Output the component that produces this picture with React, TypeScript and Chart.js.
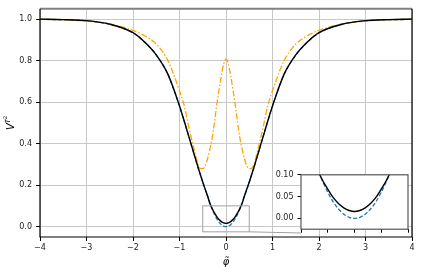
import React, { useEffect, useRef } from "react";
import { Chart, registerables } from "chart.js";
Chart.register(...registerables);

const xs = [-4, -3.5, -3, -2.5, -2, -1.75, -1.5, -1.25, -1, -0.9, -0.8, -0.7, -0.6, -0.55, -0.5, -0.45, -0.4, -0.35, -0.3, -0.25, -0.2, -0.15, -0.1, -0.05, 0,
  0.05, 0.1, 0.15, 0.2, 0.25, 0.3, 0.35, 0.4, 0.45, 0.5, 0.55, 0.6, 0.7, 0.8, 0.9, 1, 1.25, 1.5, 1.75, 2, 2.5, 3, 3.5, 4];

const blackY = [1.0, 0.998, 0.993, 0.976, 0.935, 0.89, 0.828, 0.735, 0.582, 0.51, 0.435, 0.36, 0.285, 0.25, 0.215, 0.182, 0.15, 0.114, 0.088, 0.067, 0.048, 0.034, 0.024, 0.018, 0.0155,
  0.018, 0.024, 0.034, 0.048, 0.067, 0.088, 0.114, 0.15, 0.182, 0.215, 0.25, 0.285, 0.36, 0.435, 0.51, 0.582, 0.735, 0.828, 0.89, 0.935, 0.976, 0.993, 0.998, 1.0];

const orangeY = [1.0, 0.997, 0.991, 0.977, 0.946, 0.92, 0.88, 0.8, 0.655, 0.585, 0.48, 0.385, 0.3, 0.281, 0.28, 0.292, 0.325, 0.37, 0.425, 0.5, 0.585, 0.66, 0.728, 0.785, 0.808,
  0.785, 0.728, 0.66, 0.585, 0.5, 0.425, 0.37, 0.325, 0.292, 0.28, 0.281, 0.3, 0.385, 0.48, 0.585, 0.655, 0.8, 0.88, 0.92, 0.946, 0.977, 0.991, 0.997, 1.0];

const blueY = [0.999, 0.997, 0.992, 0.975, 0.934, 0.889, 0.827, 0.734, 0.581, 0.509, 0.434, 0.359, 0.284, 0.249, 0.214, 0.181, 0.15, 0.118, 0.086, 0.06, 0.038, 0.0215, 0.0096, 0.0024, 0.0,
  0.0024, 0.0096, 0.0215, 0.038, 0.06, 0.086, 0.118, 0.15, 0.181, 0.214, 0.249, 0.284, 0.359, 0.434, 0.509, 0.581, 0.734, 0.827, 0.889, 0.934, 0.975, 0.992, 0.997, 0.999];

const xTicks = [-4, -3, -2, -1, 0, 1, 2, 3, 4];
const yTicks = [0, 0.2, 0.4, 0.6, 0.8, 1.0];
const insetXTicks = [-0.5, -0.25, 0, 0.25, 0.5];
const insetYTicks = [0, 0.05, 0.1];
const zoomX = [-0.5, 0.5];
const zoomY = [-0.025, 0.1];

const FONT = '"DejaVu Sans", sans-serif';
const W = 421, H = 273;
// inset canvas placement
const IN_LEFT = 261, IN_TOP = 166, IN_W = 152, IN_H = 72;
const IN_AREA_LEFT = 40, IN_AREA_TOP = 6.7, IN_AREA_BOTTOM = 67;

const pts = (ys: number[]) => xs.map((x, i) => ({ x, y: ys[i] }));
const fmtX = (v: number) => (v < 0 ? "\u2212" + Math.abs(v) : String(v));

function datasets() {
  return [
    { label: "black", data: pts(blackY), borderColor: "#000000", borderWidth: 1.4, pointRadius: 0, cubicInterpolationMode: "monotone" as const, fill: false },
    { label: "orange", data: pts(orangeY), borderColor: "#ffa500", borderWidth: 1.3, borderDash: [6, 2, 1.5, 2], pointRadius: 0, cubicInterpolationMode: "monotone" as const, fill: false },
    { label: "blue", data: pts(blueY), borderColor: "#1f77b4", borderWidth: 1.3, borderDash: [4, 2], pointRadius: 0, cubicInterpolationMode: "monotone" as const, fill: false },
  ];
}

export default function App() {
  const mainRef = useRef<HTMLCanvasElement>(null);
  const insetRef = useRef<HTMLCanvasElement>(null);

  useEffect(() => {
    document.body.style.margin = "0";
    Chart.defaults.font.family = FONT;

    const mainPlugin = {
      id: "mainDecor",
      afterDatasetsDraw(chart: any) {
        const ctx = chart.ctx;
        const a = chart.chartArea;
        const sx = chart.scales.x, sy = chart.scales.y;
        ctx.save();
        // zoom rectangle
        const rx0 = sx.getPixelForValue(zoomX[0]), rx1 = sx.getPixelForValue(zoomX[1]);
        const ry0 = sy.getPixelForValue(zoomY[0]), ry1 = sy.getPixelForValue(zoomY[1]);
        ctx.strokeStyle = "#a0a0a0";
        ctx.lineWidth = 1;
        ctx.strokeRect(rx0, ry1, rx1 - rx0, ry0 - ry1);
        // connector to inset bottom-left
        ctx.beginPath();
        ctx.moveTo(rx1, ry0);
        ctx.lineTo(IN_LEFT + IN_AREA_LEFT, IN_TOP + IN_AREA_BOTTOM);
        ctx.stroke();
        // spines
        ctx.strokeStyle = "#808080";
        ctx.lineWidth = 2;
        ctx.beginPath();
        ctx.moveTo(a.left, a.top);
        ctx.lineTo(a.right, a.top);
        ctx.stroke();
        ctx.strokeStyle = "#000";
        ctx.lineWidth = 1.2;
        ctx.beginPath();
        ctx.moveTo(a.left, a.top);
        ctx.lineTo(a.left, a.bottom);
        ctx.lineTo(a.right, a.bottom);
        ctx.lineTo(a.right, a.top);
        ctx.stroke();
        // y label V^{T^2}
        ctx.fillStyle = "#000";
        ctx.translate(10, (a.top + a.bottom) / 2);
        ctx.rotate(-Math.PI / 2);
        ctx.textBaseline = "alphabetic";
        ctx.textAlign = "left";
        ctx.font = "italic 10px " + FONT;
        const wV = ctx.measureText("V").width;
        ctx.font = "italic 7px " + FONT;
        const wT = ctx.measureText("T").width;
        ctx.font = "5px " + FONT;
        const w2 = ctx.measureText("2").width;
        const start = -(wV + wT + w2) / 2;
        ctx.font = "italic 10px " + FONT;
        ctx.fillText("V", start, 4);
        ctx.font = "italic 7px " + FONT;
        ctx.fillText("T", start + wV, -0.5);
        ctx.font = "5px " + FONT;
        ctx.fillText("2", start + wV + wT, -3.5);
        ctx.restore();
        // x label
        ctx.save();
        ctx.fillStyle = "#000";
        ctx.font = "italic 10px " + FONT;
        ctx.textAlign = "center";
        ctx.textBaseline = "middle";
        ctx.fillText("\u03C6\u0303", (a.left + a.right) / 2, 262);
        ctx.restore();
      },
    };

    const main = new Chart(mainRef.current!, {
      type: "line",
      data: { datasets: datasets() as any },
      options: {
        animation: false,
        responsive: false,
        devicePixelRatio: 1,
        layout: { padding: { left: 0, top: 6, right: 9, bottom: 0 } },
        plugins: { legend: { display: false }, tooltip: { enabled: false } },
        scales: {
          x: {
            type: "linear",
            min: -4,
            max: 4,
            afterBuildTicks: (s: any) => { s.ticks = xTicks.map((v) => ({ value: v })); },
            afterFit: (s: any) => { s.height = 36; },
            ticks: { callback: (v: any) => fmtX(Number(v)), font: { size: 8 }, color: "#222", padding: 2, maxRotation: 0 },
            grid: { color: "#c8c8c8", lineWidth: 1, tickColor: "#000", tickLength: 4 },
            border: { display: false },
          },
          y: {
            type: "linear",
            min: -0.05,
            max: 1.05,
            afterBuildTicks: (s: any) => { s.ticks = yTicks.map((v) => ({ value: v })); },
            afterFit: (s: any) => { s.width = 40; },
            ticks: { callback: (v: any) => Number(v).toFixed(1), font: { size: 8 }, color: "#222", padding: 4 },
            grid: { color: "#c8c8c8", lineWidth: 1, tickColor: "#000", tickLength: 4 },
            border: { display: false },
          },
        },
      },
      plugins: [mainPlugin],
    });

    const insetPlugin = {
      id: "insetDecor",
      beforeDraw(chart: any) {
        const a = chart.chartArea;
        const ctx = chart.ctx;
        ctx.save();
        ctx.fillStyle = "#fff";
        ctx.fillRect(a.left, a.top, a.right - a.left, a.bottom - a.top);
        ctx.restore();
      },
      afterDraw(chart: any) {
        const a = chart.chartArea;
        const ctx = chart.ctx;
        ctx.save();
        ctx.strokeStyle = "#555";
        ctx.lineWidth = 1.2;
        ctx.strokeRect(a.left, a.top, a.right - a.left, a.bottom - a.top);
        ctx.restore();
      },
    };

    const inset = new Chart(insetRef.current!, {
      type: "line",
      data: { datasets: datasets() as any },
      options: {
        animation: false,
        responsive: false,
        devicePixelRatio: 1,
        layout: { padding: { left: 0, top: IN_AREA_TOP, right: IN_W - 147, bottom: 0 } },
        plugins: { legend: { display: false }, tooltip: { enabled: false } },
        scales: {
          x: {
            type: "linear",
            min: zoomX[0],
            max: zoomX[1],
            afterBuildTicks: (s: any) => { s.ticks = insetXTicks.map((v) => ({ value: v })); },
            afterFit: (s: any) => { s.height = IN_H - IN_AREA_BOTTOM; },
            ticks: { callback: () => "", font: { size: 8 } },
            grid: { drawOnChartArea: false, drawTicks: true, tickColor: "#000", tickLength: 3.5 },
            border: { display: false },
          },
          y: {
            type: "linear",
            min: zoomY[0],
            max: zoomY[1],
            afterBuildTicks: (s: any) => { s.ticks = insetYTicks.map((v) => ({ value: v })); },
            afterFit: (s: any) => { s.width = IN_AREA_LEFT; },
            ticks: { callback: (v: any) => Number(v).toFixed(2), font: { size: 8 }, color: "#222", padding: 4 },
            grid: { drawOnChartArea: false, drawTicks: true, tickColor: "#000", tickLength: 3.5 },
            border: { display: false },
          },
        },
      },
      plugins: [insetPlugin],
    });

    return () => {
      main.destroy();
      inset.destroy();
    };
  }, []);

  return (
    <div style={{ position: "relative", width: W, height: H }}>
      <canvas ref={mainRef} width={W} height={H} style={{ position: "absolute", left: 0, top: 0 }} />
      <canvas ref={insetRef} width={IN_W} height={IN_H} style={{ position: "absolute", left: IN_LEFT, top: IN_TOP }} />
    </div>
  );
}
